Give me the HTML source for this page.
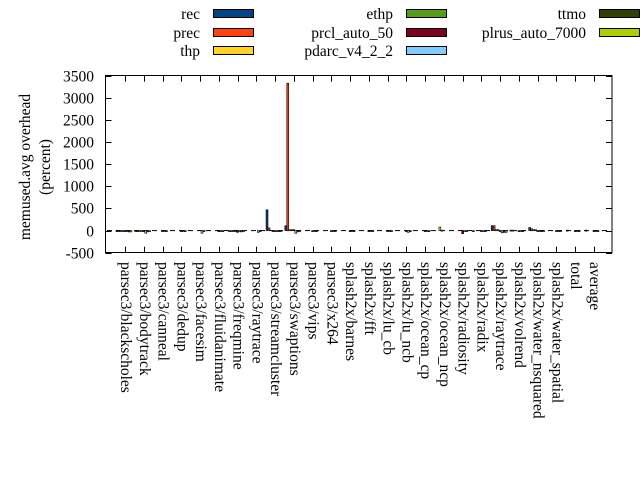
<!DOCTYPE html>
<html><head><style>body{margin:0;background:#fff}svg{display:block}text{font-family:"Liberation Serif",serif;font-size:15.5px;fill:#000}</style></head><body>
<svg width="640" height="480" xmlns="http://www.w3.org/2000/svg">
<g id="legend" stroke="#000" stroke-width="1">
<rect x="213.5" y="9.5" width="40" height="8" fill="#004586"/>
<rect x="213.5" y="28.5" width="40" height="8" fill="#ff420e"/>
<rect x="213.5" y="46.5" width="40" height="8" fill="#ffd320"/>
<rect x="406.5" y="9.5" width="40" height="8" fill="#579d1c"/>
<rect x="406.5" y="28.5" width="40" height="8" fill="#7e0021"/>
<rect x="406.5" y="46.5" width="40" height="8" fill="#83caff"/>
<rect x="599.5" y="9.5" width="40" height="8" fill="#314004"/>
<rect x="599.5" y="28.5" width="40" height="8" fill="#aecf00"/>
</g>
<g text-anchor="end">
<text x="200" y="19">rec</text><text x="200" y="38">prec</text><text x="200" y="56">thp</text>
<text x="393" y="19">ethp</text><text x="393" y="38">prcl_auto_50</text><text x="393" y="56">pdarc_v4_2_2</text>
<text x="586" y="19">ttmo</text><text x="586" y="38">plrus_auto_7000</text>
</g>
<g id="axes" stroke="#000" fill="none" stroke-width="1">
<rect x="105.5" y="75.5" width="506.5" height="177"/>
</g>
<g id="yt" stroke="#000"></g>
<g id="yl" text-anchor="end"></g>
<g id="bars" stroke="#000" stroke-width="0.6"></g>
<g id="xl"></g>
<text transform="translate(30,167) rotate(-90)" text-anchor="middle">memused.avg overhead</text>
<text transform="translate(50,167) rotate(-90)" text-anchor="middle">(percent)</text>
<script>
(function(){
var ns="http://www.w3.org/2000/svg";
function el(p,t,a,txt){var e=document.createElementNS(ns,t);for(var k in a)e.setAttribute(k,a[k]);if(txt!=null)e.textContent=txt;document.getElementById(p).appendChild(e);return e;}
var T=75.7,B=252.7;function Y(v){return B-(v+500)/4000*(B-T);}
for(var v=-500;v<=3500;v+=500){var y=Math.round(Y(v))+0.5;
el("yt","line",{x1:105.5,x2:111.5,y1:y,y2:y});el("yt","line",{x1:612,x2:606,y1:y,y2:y});
el("yl","text",{x:94,y:y+5},String(v));}
var y0=Y(0);
for(var x=107;x<610;x+=9)el("yt","line",{x1:x,x2:x+5,y1:y0,y2:y0,"stroke-width":1});
var names=["parsec3/blackscholes","parsec3/bodytrack","parsec3/canneal","parsec3/dedup","parsec3/facesim","parsec3/fluidanimate","parsec3/freqmine","parsec3/raytrace","parsec3/streamcluster","parsec3/swaptions","parsec3/vips","parsec3/x264","splash2x/barnes","splash2x/fft","splash2x/lu_cb","splash2x/lu_ncb","splash2x/ocean_cp","splash2x/ocean_ncp","splash2x/radiosity","splash2x/radix","splash2x/raytrace","splash2x/volrend","splash2x/water_nsquared","splash2x/water_spatial","total","average"];
var cols=["#004586","#ff420e","#ffd320","#579d1c","#7e0021","#83caff","#314004","#aecf00"];
var D={0:[-5,-5,-5,-5,-10,-20,-30,-30],1:[-5,-5,-5,-10,-10,-60,-30,-10],4:[0,0,0,0,0,-60,-5,0],6:[-5,-5,-5,-10,-40,-20,-30,-10],7:[0,0,0,0,0,-40,-10,0],
8:[470,60,0,-10,-20,-20,-20,-10],9:[110,3330,20,20,20,-60,-30,-10],11:[0,0,0,0,-20,-20,-20,0],15:[0,0,0,0,-20,-40,-20,0],17:[0,0,80,10,0,0,0,0],18:[0,0,0,0,-70,-20,-20,0],
20:[110,110,20,20,-10,-50,-40,-40],22:[70,40,20,20,-20,-20,-20,-20],24:[10,0,0,0,-20,-20,-20,0],25:[10,0,0,0,-20,-20,-20,0],21:[10,10,0,0,-20,-20,-20,0],19:[-5,0,0,0,-20,-20,-20,0]};
for(var i=0;i<26;i++){var c=125+i*18.76,tx=Math.round(c)+0.5;
el("yt","line",{x1:tx,x2:tx,y1:252.7,y2:246.7});el("yt","line",{x1:tx,x2:tx,y1:75.7,y2:81.7});
var vals=D[i]||[0,0,0,0,-10,-10,-10,0];
for(var k=0;k<8;k++){var v=vals[k];if(!v)continue;var x=c-9+k*2;var a=Y(v),b=y0;
el("bars","rect",{x:x,y:Math.min(a,b),width:1.9,height:Math.max(Math.abs(a-b),1),fill:cols[k]});}
el("xl","text",{transform:"translate("+(c-4)+",262) rotate(90)"},names[i]);}
})();
</script>
</svg>
</body></html>
